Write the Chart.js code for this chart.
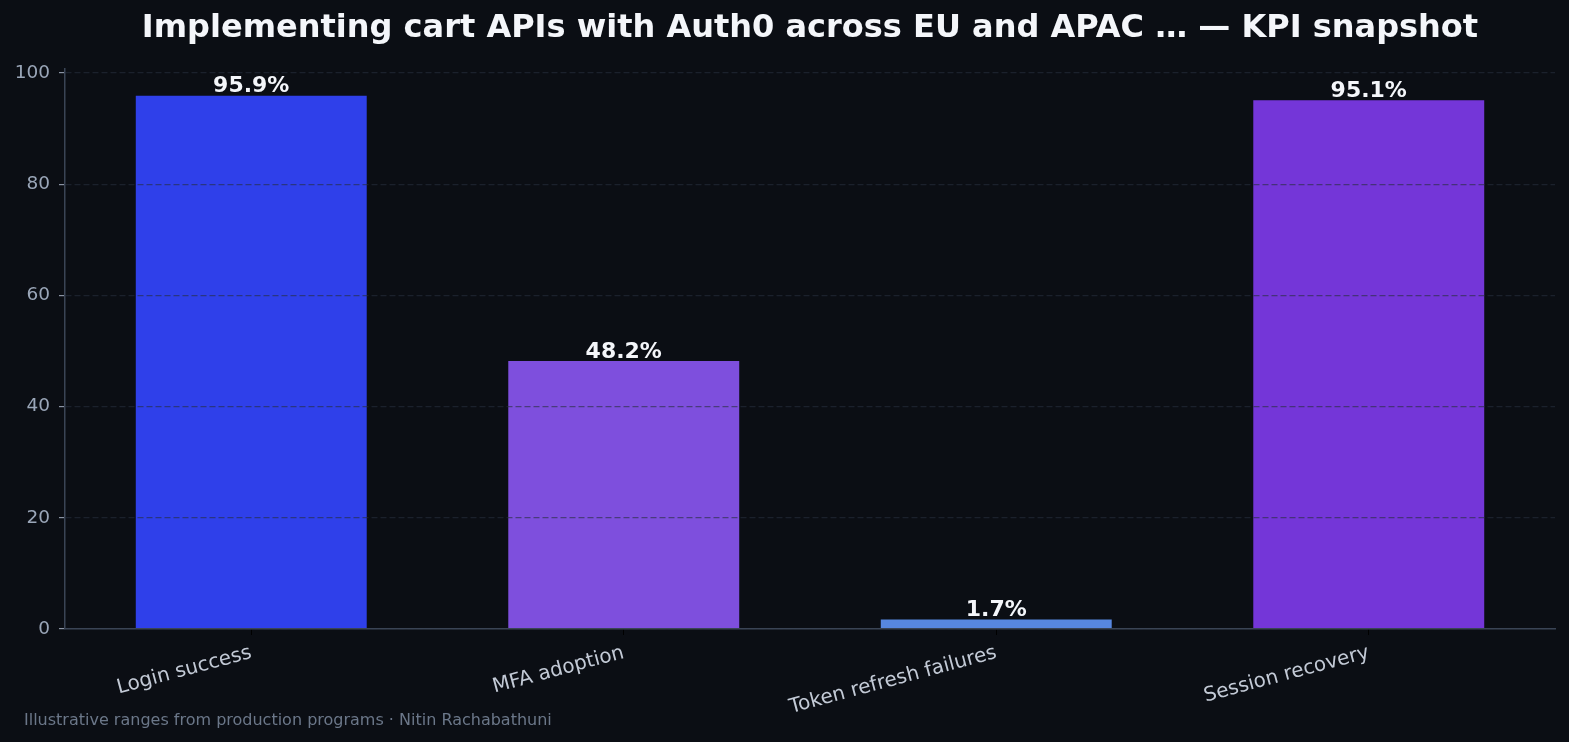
<!DOCTYPE html>
<html>
<head>
<meta charset="utf-8">
<script src="https://cdn.jsdelivr.net/npm/chart.js@4"></script>
<style>
  body { margin: 0; background: #0b0e14; }
  #wrap { width: 1569px; height: 742px; }
</style>
</head>
<body>
<div id="wrap"><canvas id="barChart" width="1569" height="742"></canvas></div>
<script>
const categories = ['Login success', 'MFA adoption', 'Token refresh failures', 'Session recovery'];
const values = [95.9, 48.2, 1.7, 95.1];
const barColors = ['#2f40ea', '#7e4fdd', '#5787e0', '#7436d8'];
const yTicks = [0, 20, 40, 60, 80, 100];

const titleText = 'Implementing cart APIs with Auth0 across EU and APAC … — KPI snapshot';
const footText = 'Illustrative ranges from production programs · Nitin Rachabathuni';
const FONT = '"DejaVu Sans", sans-serif';

// title, footnote and value labels
const extras = {
    id: 'extras',
    afterDatasetsDraw(chart) {
        const ctx = chart.ctx;
        const meta = chart.getDatasetMeta(0);
        ctx.save();
        ctx.fillStyle = '#f4f6fa';
        ctx.font = 'bold 22px ' + FONT;
        ctx.textAlign = 'center';
        ctx.textBaseline = 'bottom';
        meta.data.forEach((bar, i) => {
            ctx.fillText(values[i].toFixed(1) + '%', bar.x, bar.y + 2);
        });
        ctx.restore();
    },
    afterDraw(chart) {
        const ctx = chart.ctx;
        const area = chart.chartArea;
        ctx.save();
        ctx.fillStyle = '#f4f6fa';
        ctx.font = 'bold 32px ' + FONT;
        ctx.textAlign = 'center';
        ctx.textBaseline = 'middle';
        ctx.fillText(titleText, (area.left + area.right) / 2, 29);
        ctx.fillStyle = '#6b7789';
        ctx.font = '16px ' + FONT;
        ctx.textAlign = 'left';
        ctx.textBaseline = 'alphabetic';
        ctx.fillText(footText, 24, 725);
        ctx.restore();
    }
};

const content = document.getElementById('barChart').getContext('2d');
new Chart(content, {
    type: 'bar',
    data: {
        labels: categories,
        datasets: [{
            data: values,
            backgroundColor: barColors,
            borderWidth: 0,
            barPercentage: 0.62,
            categoryPercentage: 1
        }]
    },
    options: {
        responsive: false,
        animation: false,
        layout: { padding: { top: 69, right: 14, bottom: 0, left: 0 } },
        plugins: {
            legend: { display: false },
            tooltip: { enabled: false }
        },
        scales: {
            x: {
                afterFit: scale => { scale.height = 113; },
                border: { color: '#3a4455', width: 1.5, z: 2 },
                grid: { offset: false, drawOnChartArea: false, drawTicks: true, tickLength: 6, tickColor: '#000000' },
                ticks: {
                    color: '#c3cad6',
                    font: { family: FONT, size: 20 },
                    minRotation: 15,
                    maxRotation: 15,
                    padding: 6
                }
            },
            y: {
                min: 0,
                max: 100.7,
                afterFit: scale => { scale.width = 65; },
                afterBuildTicks: scale => { scale.ticks = yTicks.map(v => ({ value: v })); },
                grid: {
                    z: 1,
                    color: 'rgba(39, 47, 60, 0.6)',
                    lineWidth: 1.2,
                    tickColor: '#8a93a3',
                    tickLength: 6,
                    drawTicks: true,
                    tickBorderDash: []
                },
                border: { z: 1, color: '#3a4455', width: 1.5, dash: [6, 3] },
                ticks: {
                    color: '#9aa6b8',
                    font: { family: FONT, size: 18.5 },
                    padding: 9
                }
            }
        }
    },
    plugins: [extras]
});
</script>
</body>
</html>
